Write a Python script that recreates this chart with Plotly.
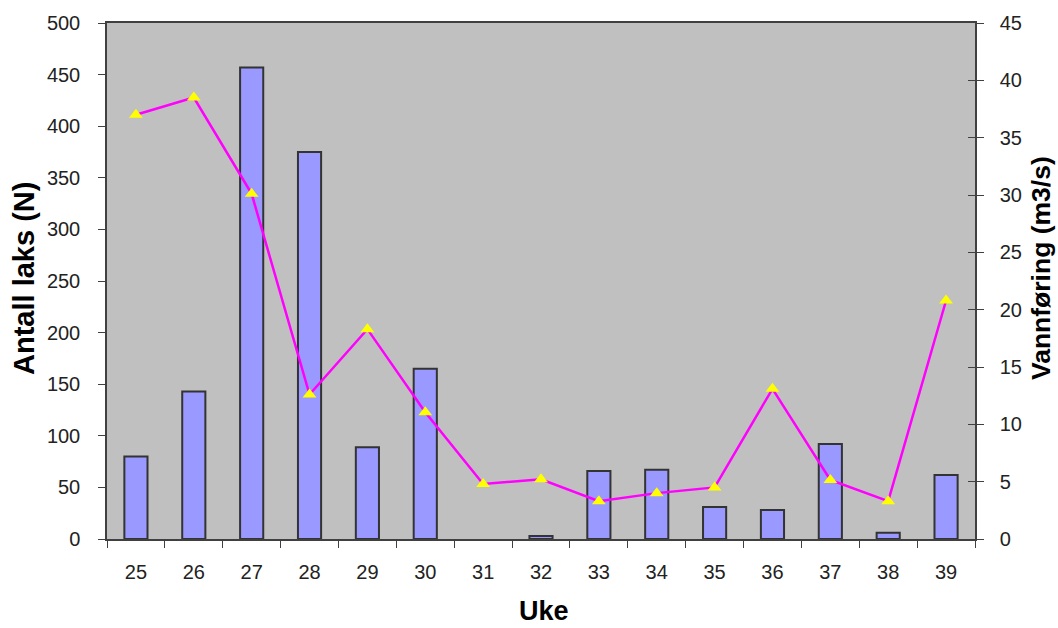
import plotly.graph_objects as go

# Week numbers, salmon count per week and mean discharge per week
weeks = ["25", "26", "27", "28", "29", "30", "31", "32", "33", "34", "35", "36", "37", "38", "39"]
salmon_count = [80, 143, 457, 375, 89, 165, 0, 3, 66, 67, 31, 28, 92, 6, 62]
discharge = [37.0, 38.5, 30.1, 12.6, 18.3, 11.05, 4.8, 5.2, 3.3, 4.0, 4.5, 13.1, 5.15, 3.3, 20.8]

FONT = "Liberation Sans, Arial, sans-serif"
AXIS_COL = "#404040"

# empty weeks get no outline
outline_w = [2 if v > 0 else 0 for v in salmon_count]

fig = go.Figure()

fig.add_trace(go.Bar(
    x=weeks, y=salmon_count, yaxis="y",
    width=0.4,
    marker=dict(color="#9999FF", line=dict(color="#333333", width=outline_w)),
    showlegend=False,
))

fig.add_trace(go.Scatter(
    x=weeks, y=discharge, yaxis="y2",
    mode="lines+markers",
    line=dict(color="#FF00FF", width=2.5),
    marker=dict(symbol="triangle-up", color="#FFFF00", size=12, line=dict(width=0)),
    showlegend=False,
))

# helper trace so the inner tick marks of the right axis are drawn
fig.add_trace(go.Scatter(x=[weeks[0]], y=[None], yaxis="y3", showlegend=False, hoverinfo="skip"))

fig.update_layout(
    width=1058, height=628,
    margin=dict(l=107, r=83, t=18, b=89),
    paper_bgcolor="white",
    plot_bgcolor="#C0C0C0",
    font=dict(family=FONT, size=20, color="#222222"),
    xaxis=dict(
        type="category", range=[-0.5, len(weeks) - 0.5],
        showline=True, linecolor=AXIS_COL, linewidth=1.5, mirror=True,
        ticks="outside", tickson="boundaries", ticklen=7, tickcolor=AXIS_COL,
        ticklabelstandoff=14,
        showgrid=False, zeroline=False,
    ),
    yaxis=dict(
        range=[0, 500], dtick=50,
        showline=True, linecolor=AXIS_COL, linewidth=1.5,
        ticks="outside", ticklen=7, tickcolor=AXIS_COL,
        ticklabelstandoff=14,
        showgrid=False, zeroline=False,
    ),
    yaxis2=dict(
        range=[0, 45], dtick=5, overlaying="y", side="right", anchor="x",
        showline=True, linecolor=AXIS_COL, linewidth=1.5,
        ticks="outside", ticklen=7, tickcolor=AXIS_COL,
        ticklabelstandoff=12,
        showgrid=False, zeroline=False,
    ),
    yaxis3=dict(
        range=[0, 45], dtick=5, overlaying="y", side="right", anchor="x",
        showline=False, ticks="inside", ticklen=7, tickcolor=AXIS_COL,
        showticklabels=False, showgrid=False, zeroline=False,
    ),
    annotations=[
        dict(text="<b>Antall laks (N)</b>", textangle=-90, xref="paper", yref="paper",
             x=-0.0956, y=0.504, xanchor="center", yanchor="middle", showarrow=False,
             font=dict(family=FONT, size=29, color="black")),
        dict(text="<b>Vannføring (m3/s)</b>", textangle=-90, xref="paper", yref="paper",
             x=1.076, y=0.525, xanchor="center", yanchor="middle", showarrow=False,
             font=dict(family=FONT, size=26.5, color="black")),
        dict(text="<b>Uke</b>", xref="paper", yref="paper",
             x=0.5035, y=-0.14, xanchor="center", yanchor="middle", showarrow=False,
             font=dict(family=FONT, size=27, color="black")),
    ],
)

fig.write_html("out.html")
